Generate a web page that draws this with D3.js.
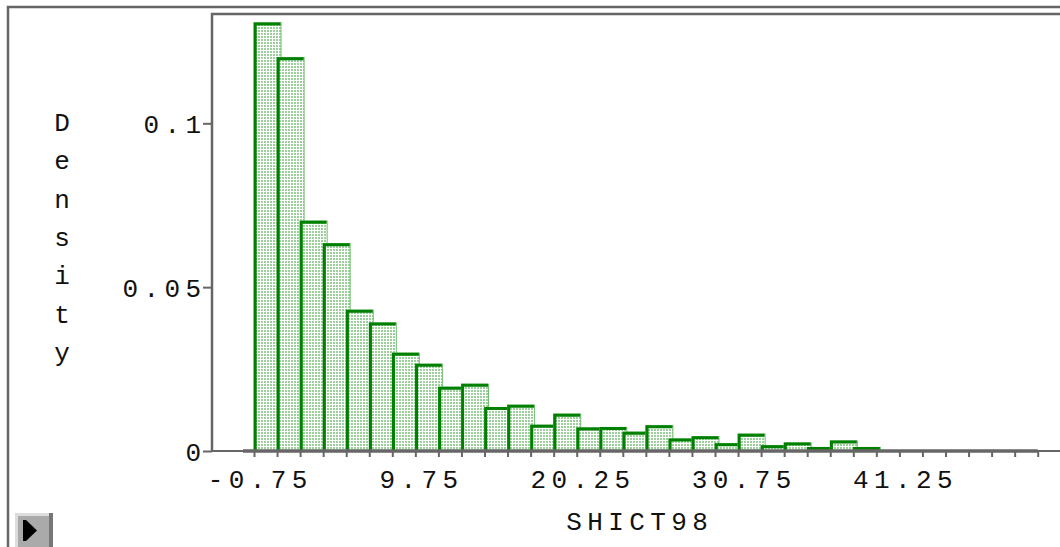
<!DOCTYPE html>
<html lang="en">
<head>
<meta charset="UTF-8" />
<script src="https://d3js.org/d3.v7.min.js"></script>
<style>
  body { margin: 0; background: #fff; }
  svg { display: block; }
  text { font-family: "Liberation Mono", "Courier New", monospace; font-size: 26px; fill: #111; }
</style>
<title>SHICT98 density</title>
</head>
<body>
<script>
// histogram of SHICT98, bins 1.5 wide starting at -0.75
var binStart = -0.75, binWidth = 1.5;
var density = [0.1307, 0.1201, 0.0702, 0.0633, 0.0430, 0.0391, 0.0299, 0.0265, 0.0195, 0.0204,
               0.0133, 0.0140, 0.0079, 0.0113, 0.0071, 0.0072, 0.0058, 0.0078, 0.0037, 0.0044,
               0.0023, 0.0052, 0.0017, 0.0025, 0.0011, 0.0031, 0.0011, 0, 0, 0,
               0, 0, 0, 0];
var xTickLabels = ["-0.75", "9.75", "20.25", "30.75", "41.25"];
var yTickValues = [0, 0.05, 0.1];
var yTickLabels = ["0", "0.05", "0.1"];
var xTitle = "SHICT98";
var yTitle = "Density";

var W = 1060, H = 547;
var ls = 5.4;          // letter spacing of the labels
var grey = "#666";

// bin edges
var edges = density.map(function(d, i) { return binStart + i * binWidth; });
edges.push(binStart + density.length * binWidth);
var bins = density.map(function(v, i) { return {lo: edges[i], hi: edges[i + 1], v: v}; });

var x = d3.scaleLinear().domain([binStart, edges[edges.length - 1]]).range([254, 1037.7]);
var y = d3.scaleLinear().domain([0, 0.1]).range([451, 123.3]);

var svg = d3.select("body").append("svg")
    .attr("width", W)
    .attr("height", H);

// stipple fill of the bars
var pat = svg.append("defs").append("pattern")
    .attr("id", "stipple")
    .attr("width", 3).attr("height", 3)
    .attr("patternUnits", "userSpaceOnUse");
pat.append("rect").attr("width", 3).attr("height", 3).attr("fill", "#fff");
pat.append("rect").attr("width", 2).attr("height", 2).attr("fill", "#9ccf9c");

// outer frame
svg.append("path")
   .attr("d", "M8," + H + "V7H" + W)
   .attr("fill", "none").attr("stroke", grey).attr("stroke-width", 2.5);

// plot frame
svg.append("path")
   .attr("d", "M212," + y(0) + "V14H" + W)
   .attr("fill", "none").attr("stroke", grey).attr("stroke-width", 2.5);
svg.append("line")
   .attr("x1", 212).attr("x2", W)
   .attr("y1", y(0)).attr("y2", y(0))
   .attr("stroke", grey).attr("stroke-width", 2);

// bars, each one a bit wider than its bin so the next one overlaps it
var bars = svg.append("g").selectAll(".bar")
    .data(bins.filter(function(d) { return d.v > 0; }))
    .enter().append("g")
    .attr("class", "bar");

bars.append("rect")
    .attr("x", function(d) { return x(d.lo); })
    .attr("y", function(d) { return y(d.v); })
    .attr("width", function(d) { return x(d.hi) - x(d.lo) + 4; })
    .attr("height", function(d) { return y(0) - y(d.v); })
    .attr("fill", "url(#stipple)")
    .attr("stroke", "#74bd74")
    .attr("stroke-width", 1);

bars.append("path")
    .attr("d", function(d) {
        return "M" + (x(d.lo) + 1.2) + "," + y(0) + "V" + (y(d.v) + 1.2) + "H" + (x(d.hi) + 3.5);
    })
    .attr("fill", "none")
    .attr("stroke", "#008000")
    .attr("stroke-width", 3);

// x axis
svg.append("line")
   .attr("x1", x(binStart) - 11).attr("x2", x(edges[edges.length - 1]))
   .attr("y1", y(0)).attr("y2", y(0))
   .attr("stroke", grey).attr("stroke-width", 3.5);

var xAxis = svg.append("g")
    .attr("transform", "translate(0," + y(0) + ")")
    .call(d3.axisBottom(x)
        .tickValues(edges)
        .tickSize(6)
        .tickFormat(function(d, i) { return i % 7 === 0 ? xTickLabels[i / 7] : ""; }));
xAxis.select(".domain").remove();
xAxis.selectAll(".tick line").attr("stroke", grey).attr("stroke-width", 2);
xAxis.selectAll(".tick text")
    .attr("y", 37).attr("dy", 0).attr("dx", 3 + ls / 2)
    .attr("font-family", null).attr("font-size", null)
    .style("letter-spacing", ls + "px")
    .attr("fill", "#111");

// y axis
var yAxis = svg.append("g")
    .attr("transform", "translate(212,0)")
    .call(d3.axisLeft(y)
        .tickValues(yTickValues)
        .tickSize(9)
        .tickFormat(function(d, i) { return yTickLabels[i]; }));
yAxis.select(".domain").remove();
yAxis.selectAll(".tick line").attr("stroke", grey).attr("stroke-width", 2);
yAxis.selectAll(".tick text")
    .attr("x", -5.5).attr("dy", "0.36em")
    .attr("font-family", null).attr("font-size", null)
    .style("letter-spacing", ls + "px")
    .attr("fill", "#111");

// axis titles
svg.append("text")
   .attr("x", 637 + ls / 2).attr("y", 530)
   .attr("text-anchor", "middle")
   .style("letter-spacing", ls + "px")
   .text(xTitle);

svg.append("g").selectAll("text")
   .data(yTitle.split(""))
   .enter().append("text")
   .attr("x", 62)
   .attr("y", function(d, i) { return 131 + i * 38.3; })
   .attr("text-anchor", "middle")
   .text(function(d) { return d; });

// play button, bottom left
var btn = svg.append("g");
btn.append("rect").attr("x", 15).attr("y", 513).attr("width", 38).attr("height", 34).attr("fill", "#777");
btn.append("rect").attr("x", 15).attr("y", 513).attr("width", 34).attr("height", 34).attr("fill", "#ddd");
btn.append("rect").attr("x", 18).attr("y", 516).attr("width", 31).attr("height", 31).attr("fill", "#aaa");
btn.append("rect").attr("x", 23).attr("y", 520).attr("width", 3).attr("height", 21).attr("fill", "#000");
btn.append("path").attr("d", "M26,520L37,530.5L26,541Z").attr("fill", "#000");
</script>
</body>
</html>
